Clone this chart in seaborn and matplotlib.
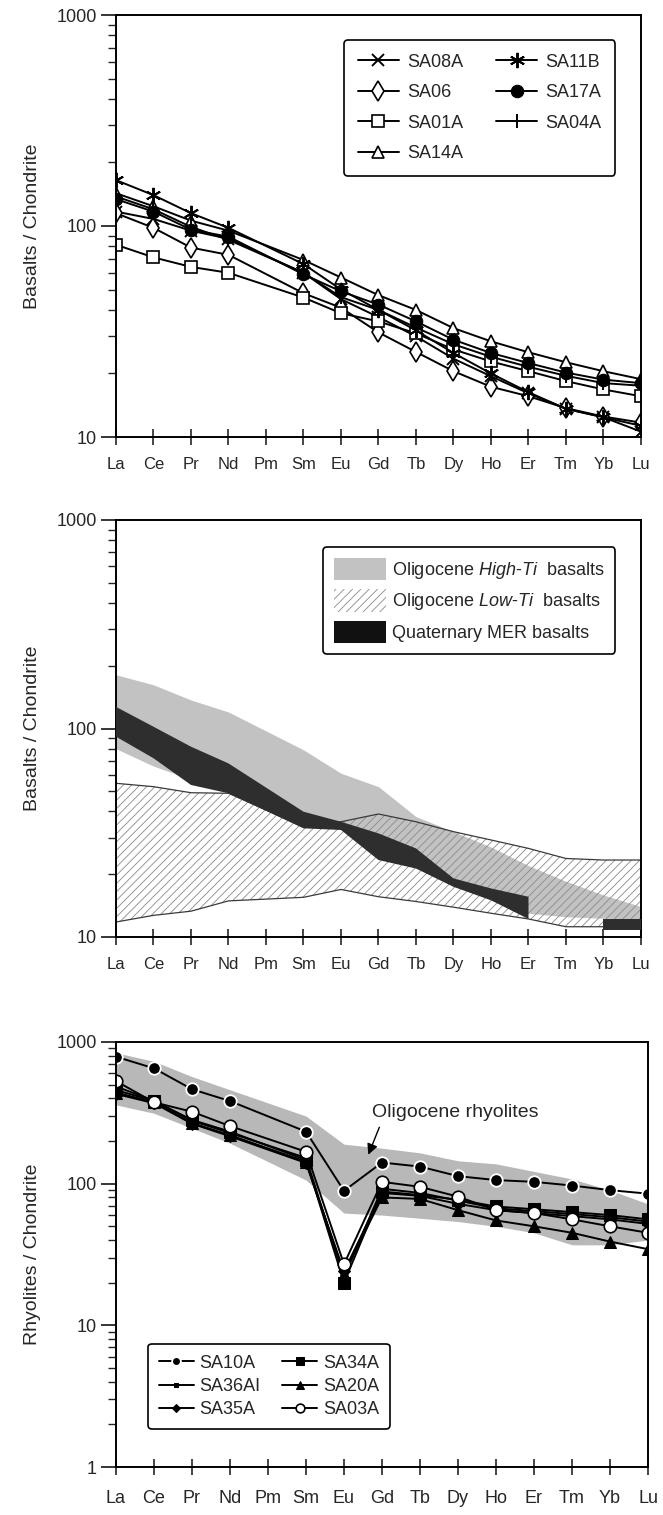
import numpy as np
import pandas as pd
import matplotlib
matplotlib.use("Agg")
import matplotlib.pyplot as plt
import seaborn as sns
from matplotlib.patches import Patch
from matplotlib.ticker import LogLocator, FuncFormatter, NullFormatter, FixedLocator

sns.set_style("ticks")
plt.rcParams["font.family"] = ["Liberation Sans", "DejaVu Sans"]
plt.rcParams["mathtext.fontset"] = "custom"
plt.rcParams["mathtext.rm"] = "Liberation Sans"
plt.rcParams["mathtext.it"] = "Liberation Sans:italic"
plt.rcParams["hatch.linewidth"] = 0.6

nan = np.nan
elements = ["La", "Ce", "Pr", "Nd", "Pm", "Sm", "Eu", "Gd", "Tb", "Dy", "Ho", "Er", "Tm", "Yb", "Lu"]

# ---- panel 1: basalts ----
sa08a = [117, 108, 95, 87, nan, 60, 45, 37, 30, 23.5, 19.4, 16.1, 13.6, 12.4, 10.6]
sa11b = [165, 140, 115, 98, nan, 66, 50, 40, 32, 25, 20, 16.3, 13.6, 12.4, 11.3]
sa06 = [115, 98, 79, 73, nan, 48, 41, 31.3, 25.3, 20.5, 17.3, 15.6, 13.7, 12.5, 11.7]
sa17a = [134, 117, 96, 89, nan, 59, 49, 42.4, 35.3, 28.9, 25, 22.4, 20.2, 18.7, 18]
sa01a = [81.5, 71, 64, 60, nan, 45.8, 38.6, 35.3, 31, 26, 22.8, 20.5, 18.4, 16.8, 15.6]
sa04a = [138, 120, 99, 86, nan, 60, 46, 40, 33, 27.5, 24, 21.5, 19.5, 18, 17.5]
sa14a = [143, 124, 106, 95, nan, 69, 57, 47, 40, 32.8, 28.4, 25.2, 22.6, 20.5, 18.8]

# ---- panel 2: fields ----
high_ti_upper = [181, 162, 137, 120, nan, 79, 61, 52.6, 37.8, 32, 27, 22, 18.5, 15.9, 14]
high_ti_lower = [80, 66, 57, 50, nan, 38, 34, 30, 24, 18.5, 15, 13, 12.5, 12.3, 12.2]
low_ti_upper = [54.6, 52.6, 49.2, 48.9, nan, 33.8, 35.7, 38.9, 35.7, 32, 29.2, 26.6, 23.8, 23.4, 23.4]
low_ti_lower = [11.8, 12.7, 13.3, 14.9, nan, 15.5, 16.9, 15.6, 14.8, 13.9, 13, 12.2, 11.2, 11.2, 11]
mer_upper = [127, 102, 81.8, 68, nan, 39.9, 35.7, 31.4, 26.6, 19.1, 17.1, 15.6, nan, 12.2, 12.2]
mer_lower = [91.4, 72, 53.6, 48.9, nan, 33.2, 32.6, 23.4, 21.3, 17.4, 15, 12.2, nan, 10.8, 10.8]

# ---- panel 3: rhyolites ----
sa10a = [787, 652, 464, 383, nan, 233, 89, 141, 132, 113, 106, 103, 97, 90, 85]
sa34a = [458, 383, 282, 233, nan, 147, 20, 88, 83, 77, 69, 66, 63, 60, 56]
sa36ai = [485, 385, 278, 228, nan, 152, 22, 92, 86, 76, 67, 64, 61, 58, 54]
sa20a = [440, 375, 268, 220, nan, 143, 23, 80, 78, 65, 55, 50, 45, 39, 34.5]
sa35a = [430, 370, 265, 216, nan, 140, 24, 86, 82, 72, 65, 62, 59, 56, 52]
sa03a = [530, 375, 322, 255, nan, 168, 27, 103, 95, 81, 65, 62, 56, 50, 45]
rhy_upper = [840, 730, 570, 460, nan, 300, 190, 178, 165, 145, 138, 122, 108, 90, 72]
rhy_lower = [360, 314, 246, 193, nan, 106, 62, 60, 57, 54, 50, 45, 37, 37, 40]

xpos = np.arange(len(elements))

W, H = 663, 1515
fig = plt.figure(figsize=(W / 100, H / 100), dpi=100)
ax1 = fig.add_axes([116 / W, 1 - 437 / H, 525 / W, 422 / H])
ax2 = fig.add_axes([116 / W, 1 - 937 / H, 525 / W, 417 / H])
ax3 = fig.add_axes([116 / W, 1 - 1467 / H, 532 / W, 425 / H])


def style_axes(ax, ylo, yhi, ylabel, xfs, xpad):
    ax.set_yscale("log")
    ax.set_ylim(ylo, yhi)
    ax.set_xlim(0, len(elements) - 1)
    ax.xaxis.set_major_locator(FixedLocator(xpos))
    ax.set_xticklabels(elements, fontsize=xfs)
    ax.yaxis.set_major_locator(LogLocator(base=10))
    ax.yaxis.set_minor_locator(LogLocator(base=10, subs=np.arange(2, 10)))
    ax.yaxis.set_major_formatter(FuncFormatter(lambda v, p: f"{v:g}"))
    ax.yaxis.set_minor_formatter(NullFormatter())
    ax.tick_params(axis="y", which="major", direction="out", length=11, width=1.3,
                   labelsize=13, pad=3)
    ax.tick_params(axis="y", which="minor", direction="out", length=6, width=1.0)
    ax.tick_params(axis="x", which="major", direction="inout", length=11, width=1.2,
                   pad=xpad)
    for s in ax.spines.values():
        s.set_linewidth(1.4)
        s.set_color("black")
    ax.set_xlabel("")
    ax.set_ylabel(ylabel, fontsize=14, labelpad=11)


def draw_series(ax, vals, **kw):
    v = np.asarray(vals, dtype=float)
    m = ~np.isnan(v)
    df = pd.DataFrame({"x": xpos[m], "y": v[m]})
    sns.lineplot(data=df, x="x", y="y", ax=ax, color="black", linewidth=1.4,
                 errorbar=None, legend=False, **kw)
    return ax.lines[-1]


# ---------------- panel 1 ----------------
p1 = [
    ("SA08A", sa08a, dict(marker="x", markersize=9, markeredgewidth=1.4, markeredgecolor="k")),
    ("SA06", sa06, dict(marker="d", markersize=10, markerfacecolor="white", markeredgecolor="k", markeredgewidth=1.2)),
    ("SA01A", sa01a, dict(marker="s", markersize=9, markerfacecolor="white", markeredgecolor="k", markeredgewidth=1.2)),
    ("SA14A", sa14a, dict(marker="^", markersize=9, markerfacecolor="white", markeredgecolor="k", markeredgewidth=1.2)),
    ("SA11B", sa11b, dict(marker=(6, 2, 0), markersize=11, markeredgewidth=1.4, markeredgecolor="k")),
    ("SA17A", sa17a, dict(marker="o", markersize=9, markerfacecolor="k", markeredgecolor="k")),
    ("SA04A", sa04a, dict(marker="|", markersize=10, markeredgewidth=1.4, markeredgecolor="k")),
]
h1 = []
for name, vals, kw in p1:
    h1.append(draw_series(ax1, vals, **kw))
style_axes(ax1, 10, 1000, "Basalts / Chondrite", 12, 9)
leg1 = ax1.legend(h1, [p[0] for p in p1], ncol=2, loc="upper right",
                  bbox_to_anchor=(0.968, 0.962), fontsize=13, frameon=True,
                  fancybox=True, edgecolor="black", framealpha=1,
                  handlelength=2.3, labelspacing=0.75, columnspacing=1.8,
                  handletextpad=0.45, borderpad=0.75)
leg1.get_frame().set_linewidth(1.2)

# ---------------- panel 2 ----------------
keep = np.array([e != "Pm" for e in elements])
xk = xpos[keep]


def band(ax, lo, hi, **kw):
    lo = np.asarray(lo, dtype=float)[keep]
    hi = np.asarray(hi, dtype=float)[keep]
    return ax.fill_between(xk, lo, hi, **kw)


band(ax2, high_ti_lower, high_ti_upper, color="#c2c2c2", linewidth=0, zorder=1)
band(ax2, low_ti_lower, low_ti_upper, facecolor="none", edgecolor="#8a8a8a",
     hatch="////", linewidth=0, zorder=2)
for bnd in (low_ti_upper, low_ti_lower):
    b = np.asarray(bnd, dtype=float)[keep]
    sns.lineplot(x=xk, y=b, ax=ax2, color="#3a3a3a", linewidth=0.9,
                 errorbar=None, legend=False, zorder=2.5)
band(ax2, mer_lower, mer_upper, color="#2e2e2e", linewidth=0, zorder=3)
style_axes(ax2, 10, 1000, "Basalts / Chondrite", 12, 9)
h2 = [Patch(facecolor="#c2c2c2", edgecolor="none"),
      Patch(facecolor="white", edgecolor="#8a8a8a", hatch="////", linewidth=0),
      Patch(facecolor="#111111", edgecolor="none")]
l2 = [r"Oligocene $\it{High}$-$\it{Ti}$  basalts",
      r"Oligocene $\it{Low}$-$\it{Ti}$  basalts",
      "Quaternary MER basalts"]
leg2 = ax2.legend(h2, l2, loc="upper right", bbox_to_anchor=(0.968, 0.957),
                  fontsize=13, frameon=True, fancybox=True, edgecolor="black",
                  framealpha=1, handlelength=2.9, handleheight=1.55,
                  labelspacing=0.45, handletextpad=0.3, borderpad=0.6)
leg2.get_frame().set_linewidth(1.2)

# ---------------- panel 3 ----------------
band(ax3, rhy_lower, rhy_upper, color="#b8b8b8", linewidth=0, zorder=1)
p3 = [
    ("SA10A", sa10a, dict(marker="o", markersize=9, markerfacecolor="k", markeredgecolor="white", markeredgewidth=1.3)),
    ("SA36AI", sa36ai, dict(marker="s", markersize=5, markerfacecolor="k", markeredgecolor="k")),
    ("SA35A", sa35a, dict(marker="D", markersize=6.5, markerfacecolor="k", markeredgecolor="k")),
    ("SA34A", sa34a, dict(marker="s", markersize=9, markerfacecolor="k", markeredgecolor="k")),
    ("SA20A", sa20a, dict(marker="^", markersize=9, markerfacecolor="k", markeredgecolor="k")),
    ("SA03A", sa03a, dict(marker="o", markersize=9, markerfacecolor="white", markeredgecolor="k", markeredgewidth=1.2)),
]
h3 = []
for name, vals, kw in p3:
    h3.append(draw_series(ax3, vals, **kw))
style_axes(ax3, 1, 1000, "Rhyolites / Chondrite", 13, 11)
ax3.annotate("Oligocene rhyolites", xy=(6.64, 160), xytext=(8.92, 316),
             xycoords="data", textcoords="data", ha="center", va="center",
             fontsize=14,
             arrowprops=dict(arrowstyle="-|>", color="black", lw=1.0,
                             mutation_scale=16, relpos=(0.06, 0.0),
                             shrinkA=2, shrinkB=0))
leg3 = ax3.legend(h3, [p[0] for p in p3], ncol=2, loc="lower left",
                  bbox_to_anchor=(0.043, 0.068), fontsize=13, frameon=True,
                  fancybox=True, edgecolor="black", framealpha=1,
                  handlelength=1.95, labelspacing=0.35, columnspacing=1.2,
                  handletextpad=0.3, borderpad=0.6, markerscale=0.7)
leg3.get_frame().set_linewidth(1.2)

fig.savefig("out.png", dpi=100)
